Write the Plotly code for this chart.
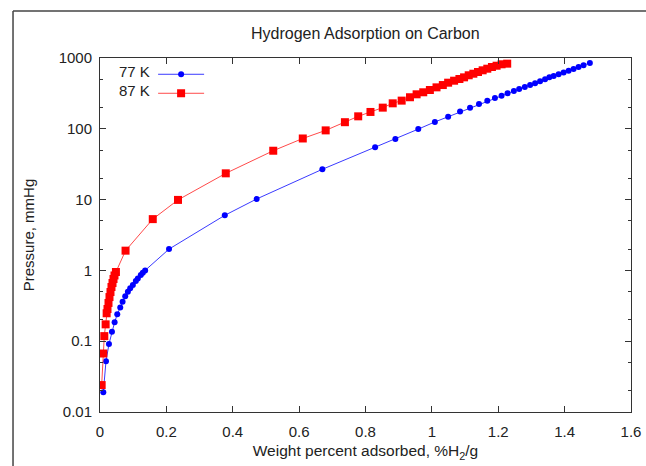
import plotly.graph_objects as go

# 77 K isotherm: weight percent adsorbed vs pressure (mmHg)
w77 = [0.010, 0.018, 0.027, 0.036, 0.044, 0.052, 0.061, 0.068, 0.076, 0.084,
       0.091, 0.099, 0.108, 0.114, 0.123, 0.129, 0.136, 0.208, 0.376, 0.472,
       0.670, 0.829, 0.890, 0.959, 1.009, 1.049, 1.085, 1.115, 1.142, 1.167,
       1.190, 1.210, 1.228, 1.247, 1.263, 1.280, 1.296, 1.311, 1.326, 1.341,
       1.354, 1.367, 1.382, 1.397, 1.412, 1.427, 1.442, 1.457, 1.476]
p77 = [0.019, 0.052, 0.091, 0.136, 0.185, 0.24, 0.30, 0.36, 0.43, 0.50,
       0.56, 0.62, 0.71, 0.77, 0.86, 0.93, 1.0, 2.0, 6.0, 10.2,
       26.8, 55, 72, 99, 125, 148, 175, 199, 224, 249,
       272, 294, 317, 342, 365, 389, 415, 439, 469, 500,
       534, 555, 590, 625, 660, 700, 745, 790, 850]

# 87 K isotherm
w87 = [0.005, 0.010, 0.013, 0.017, 0.020, 0.0226, 0.0256, 0.0286, 0.0316, 0.0346,
       0.0377, 0.0407, 0.0437, 0.048, 0.077, 0.159, 0.235, 0.379, 0.522, 0.611,
       0.680, 0.738, 0.778, 0.815, 0.852, 0.882, 0.909, 0.934, 0.954, 0.974,
       0.994, 1.014, 1.033, 1.049, 1.067, 1.083, 1.097, 1.111, 1.125, 1.139,
       1.153, 1.167, 1.181, 1.195, 1.210, 1.227]
p87 = [0.024, 0.067, 0.118, 0.173, 0.248, 0.285, 0.347, 0.42, 0.495, 0.583,
       0.664, 0.756, 0.848, 0.95, 1.9, 5.3, 9.9, 23.5, 49, 73,
       95, 124, 150, 173, 199, 229, 250, 279, 307, 328,
       353, 385, 415, 448, 478, 505, 533, 570, 600, 634,
       670, 706, 746, 778, 815, 832]

series_names = ["77 K", "87 K"]
x_ticks = [0, 0.2, 0.4, 0.6, 0.8, 1, 1.2, 1.4, 1.6]
x_tick_text = ["0", "0.2", "0.4", "0.6", "0.8", "1", "1.2", "1.4", "1.6"]
y_ticks = [0.01, 0.1, 1, 10, 100, 1000]
y_tick_text = ["0.01", "0.1", "1", "10", "100", "1000"]
y_minor = [0.02, 0.05, 0.2, 0.5, 2, 5, 20, 50, 200, 500]

FONT = "Liberation Sans, Arial, sans-serif"
TXT = "#222222"
AX = "#333333"

fig = go.Figure()
fig.add_trace(go.Scatter(
    x=w77, y=p77, mode="lines+markers", name="",
    line=dict(color="#3a3aff", width=1),
    marker=dict(symbol="circle", size=6, color="#0000ff", line=dict(width=0)),
    showlegend=True))
fig.add_trace(go.Scatter(
    x=w87, y=p87, mode="lines+markers", name="",
    line=dict(color="#ff4a4a", width=1),
    marker=dict(symbol="square", size=8, color="#ff0000", line=dict(width=0)),
    showlegend=True))

# legend labels placed left of the symbols (gnuplot style)
for i, nm in enumerate(series_names):
    fig.add_annotation(xref="paper", yref="paper", x=0.097, y=0.961 - i * 0.052,
                       text=nm, showarrow=False, xanchor="right", yanchor="middle",
                       font=dict(family=FONT, size=15, color=TXT))

# outer page frame
fig.add_shape(type="line", xref="paper", yref="paper", x0=-0.1638, x1=-0.1638,
              y0=-0.16, y1=1.1328, line=dict(color="#444444", width=1.5))
fig.add_shape(type="line", xref="paper", yref="paper", x0=-0.1638, x1=1.03,
              y0=1.1328, y1=1.1328, line=dict(color="#444444", width=1.5))

fig.update_layout(
    width=646, height=466,
    margin=dict(l=100, r=15, t=58, b=54),
    paper_bgcolor="white", plot_bgcolor="white",
    font=dict(family=FONT, size=12, color=TXT),
    title=dict(text="Hydrogen Adsorption on Carbon", x=0.5655, xanchor="center",
               y=0.929, yanchor="middle", font=dict(family=FONT, size=16, color=TXT)),
    showlegend=True,
    legend=dict(x=0.1, y=0.995, xanchor="left", yanchor="top",
                bgcolor="rgba(0,0,0,0)", borderwidth=0,
                font=dict(family=FONT, size=12), itemwidth=46, tracegroupgap=0),
    xaxis=dict(range=[0, 1.6], tickvals=x_ticks, ticktext=x_tick_text,
               ticks="inside", ticklen=6, tickwidth=1, tickcolor=AX,
               showline=True, linecolor=AX, linewidth=1, mirror="allticks",
               showgrid=False, zeroline=False, automargin=False,
               tickfont=dict(family=FONT, size=15, color=TXT),
               ticklabelstandoff=6,
               title=dict(text="Weight percent adsorbed, %H<sub>2</sub>/g",
                          font=dict(family=FONT, size=15.5, color=TXT), standoff=6)),
    yaxis=dict(type="log", range=[-2, 3], tickvals=y_ticks, ticktext=y_tick_text,
               ticks="inside", ticklen=6, tickwidth=1, tickcolor=AX,
               showline=True, linecolor=AX, linewidth=1, mirror="allticks",
               showgrid=False, zeroline=False, automargin=False,
               minor=dict(tickvals=y_minor, ticks="inside", ticklen=3, tickcolor=AX,
                          showgrid=False),
               tickfont=dict(family=FONT, size=15, color=TXT),
               ticklabelstandoff=4,
               title=dict(text="Pressure, mmHg",
                          font=dict(family=FONT, size=15, color=TXT), standoff=20)),
)

fig.write_html("out.html", config={"displayModeBar": False},
               post_script="document.body.style.margin='0';document.body.style.overflow='hidden';")
